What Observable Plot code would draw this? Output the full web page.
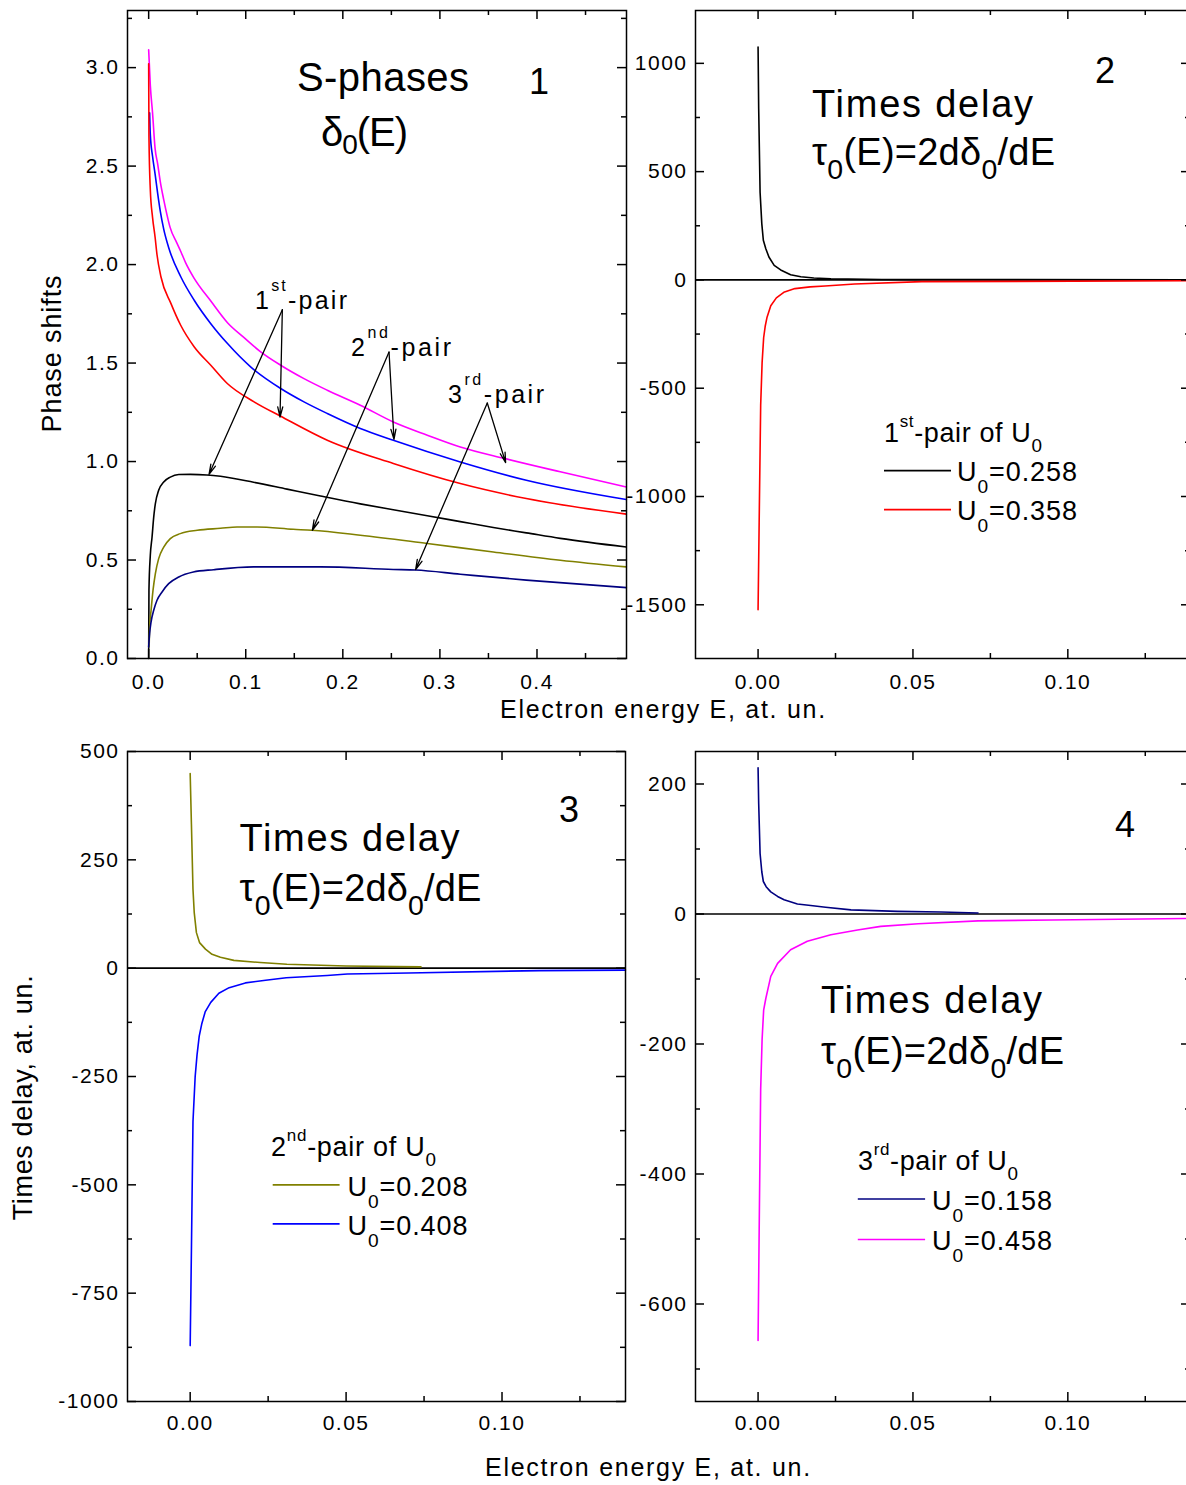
<!DOCTYPE html>
<html><head><meta charset="utf-8">
<script src="https://cdn.jsdelivr.net/npm/d3@7"></script>
<script src="https://cdn.jsdelivr.net/npm/@observablehq/plot@0.6"></script>
<style>
html,body{margin:0;padding:0;background:#fff;overflow:hidden;}
#page{position:relative;width:1186px;height:1485px;overflow:hidden;background:#fff;color:#000;font-family:"Liberation Sans",Arial,sans-serif;}
#page svg{position:absolute;}
</style></head>
<body><div id="page"></div>
<script>
// ---------------- DATA ----------------
// Panel 1: S-phase shifts delta_0(E) for six well depths U0
const E1_u0458 = [0, 0.0017, 0.004, 0.0066, 0.0093, 0.012, 0.0155, 0.019, 0.022, 0.029, 0.0332, 0.038, 0.0469, 0.064, 0.0812, 0.0983, 0.1154, 0.136, 0.16, 0.184, 0.218, 0.252, 0.287, 0.321, 0.367, 0.424, 0.492];
const d_u0458  = [3.09, 2.91, 2.77, 2.59, 2.51, 2.42, 2.33, 2.25, 2.19, 2.11, 2.065, 2.01, 1.93, 1.815, 1.705, 1.629, 1.557, 1.489, 1.421, 1.362, 1.286, 1.201, 1.134, 1.074, 1.015, 0.948, 0.871];
const E1_u0408 = [0.001, 0.0017, 0.004, 0.0066, 0.0093, 0.012, 0.0155, 0.021, 0.0332, 0.0469, 0.064, 0.0812, 0.105, 0.136, 0.16, 0.184, 0.218, 0.252, 0.321, 0.389, 0.492];
const d_u0408  = [2.77, 2.66, 2.55, 2.46, 2.36, 2.27, 2.18, 2.08, 1.937, 1.819, 1.70, 1.599, 1.481, 1.371, 1.303, 1.244, 1.168, 1.108, 0.998, 0.905, 0.807];
const E1_u0358 = [0, 0.0003, 0.0017, 0.004, 0.0066, 0.0086, 0.0127, 0.023, 0.033, 0.047, 0.064, 0.081, 0.1086, 0.136, 0.184, 0.252, 0.321, 0.389, 0.492];
const d_u0358  = [3.02, 2.65, 2.38, 2.24, 2.14, 2.05, 1.937, 1.802, 1.692, 1.582, 1.489, 1.396, 1.303, 1.230, 1.108, 0.990, 0.888, 0.812, 0.733];
const E1_u0258 = [0, 0.0003, 0.0017, 0.0035, 0.0052, 0.0069, 0.0103, 0.0155, 0.0223, 0.031, 0.043, 0.06, 0.074, 0.108, 0.1425, 0.177, 0.218, 0.252, 0.287, 0.321, 0.355, 0.389, 0.424, 0.492];
const d_u0258  = [0, 0.347, 0.524, 0.617, 0.718, 0.786, 0.854, 0.896, 0.921, 0.934, 0.935, 0.932, 0.925, 0.895, 0.86, 0.825, 0.785, 0.755, 0.725, 0.695, 0.665, 0.638, 0.61, 0.566];
const E1_u0208 = [0.0005, 0.001, 0.0025, 0.0045, 0.0069, 0.0103, 0.0155, 0.0223, 0.0326, 0.05, 0.074, 0.091, 0.1116, 0.149, 0.168, 0.218, 0.287, 0.355, 0.424, 0.492];
const d_u0208  = [0.06, 0.16, 0.245, 0.347, 0.431, 0.507, 0.566, 0.609, 0.634, 0.651, 0.661, 0.668, 0.668, 0.656, 0.651, 0.626, 0.584, 0.541, 0.499, 0.465];
const E1_u0158 = [0, 0.001, 0.0025, 0.0052, 0.0086, 0.0138, 0.0206, 0.031, 0.046, 0.067, 0.108, 0.177, 0.252, 0.275, 0.321, 0.389, 0.492];
const d_u0158  = [0.059, 0.127, 0.186, 0.245, 0.296, 0.338, 0.38, 0.414, 0.439, 0.451, 0.465, 0.465, 0.452, 0.449, 0.428, 0.398, 0.360];

// Panel 2: time delay, 1st pair
const E2_u0258 = [0, 0.0002, 0.00065, 0.0012, 0.0017, 0.0025, 0.0035, 0.0052, 0.0073, 0.0105, 0.0138, 0.018, 0.0235, 0.04, 0.138];
const t_u0258  = [1075, 790, 405, 260, 183, 144, 106, 67, 46, 24, 15, 9, 5, 2, 1];
const E2_u0358 = [0, 0.00035, 0.00084, 0.0013, 0.0018, 0.0023, 0.0029, 0.0041, 0.0059, 0.0083, 0.0119, 0.0168, 0.0216, 0.0312, 0.0529, 0.138];
const t_u0358  = [-1523, -1121, -579, -383, -267, -214, -172, -119, -83, -57, -40, -32, -28, -19, -8, -4];

// Panel 3: time delay, 2nd pair
const E3_u0208 = [0, 0.0004, 0.0009, 0.0013, 0.002, 0.003, 0.0049, 0.007, 0.0097, 0.014, 0.0225, 0.031, 0.05, 0.074];
const t_u0208  = [449, 332, 182, 128, 82, 59, 44, 32, 25, 18, 13, 9, 5, 3];
const E3_u0408 = [0, 0.0004, 0.0009, 0.0016, 0.0022, 0.0029, 0.0037, 0.0048, 0.0066, 0.0092, 0.0125, 0.0177, 0.0242, 0.0308, 0.0439, 0.0504, 0.07, 0.112, 0.1396];
const t_u0408  = [-871, -650, -354, -250, -200, -157, -129, -101, -79, -58, -45, -34, -28, -22, -17, -13.5, -11, -5.6, -4.5];

// Panel 4: time delay, 3rd pair
const E4_u0158 = [0, 0.0002, 0.00065, 0.0012, 0.0017, 0.0026, 0.0041, 0.0063, 0.0084, 0.0127, 0.017, 0.0218, 0.03, 0.045, 0.059, 0.071];
const t_u0158  = [225, 170, 93, 65, 50, 42, 34, 27, 22, 15.5, 13, 10.5, 6.3, 4, 3, 1.5];
const E4_u0458 = [0, 0.00035, 0.00084, 0.0013, 0.0018, 0.0025, 0.0041, 0.0063, 0.0105, 0.0159, 0.0235, 0.0321, 0.0396, 0.0517, 0.071, 0.095, 0.138];
const t_u0458  = [-656, -490, -270, -193, -148, -130, -96, -76, -55, -42, -32, -24.5, -19, -15, -10.6, -9.2, -7];

// Annotation arrows in panel 1 (data coordinates: from label to curve)
const arrowFrom = [[0.1377, 1.771], [0.1377, 1.771], [0.2476, 1.556], [0.2476, 1.556], [0.3488, 1.297], [0.3488, 1.297]];
const arrowTo   = [[0.0622, 0.935], [0.1353, 1.226], [0.1686, 0.651], [0.2527, 1.113], [0.275, 0.4515], [0.3677, 0.9944]];

// Ticks
const p1xMajor = [0, 0.1, 0.2, 0.3, 0.4], p1xMinor = [0.05, 0.15, 0.25, 0.35, 0.45];
const p1yMajor = [0, 0.5, 1, 1.5, 2, 2.5, 3], p1yMinor = [0.25, 0.75, 1.25, 1.75, 2.25, 2.75, 3.25];
const tdxMajor = [0, 0.05, 0.1], tdxMinor = [0.025, 0.075, 0.125];
const p2yMajor = [-1500, -1000, -500, 0, 500, 1000], p2yMinor = [-1250, -750, -250, 250, 750];
const p3yMajor = [-1000, -750, -500, -250, 0, 250, 500], p3yMinor = [-875, -625, -375, -125, 125, 375];
const p4yMajor = [-600, -400, -200, 0, 200], p4yMinor = [-700, -500, -300, -100, 100];

const C = {black: "#000000", red: "#ff0000", olive: "#808000", blue: "#0000ff", navy: "#000080", magenta: "#ff00ff"};

// ---------------- HELPERS ----------------
const page = document.getElementById("page");
const FONT = "'Liberation Sans', Arial, sans-serif";
const rows = (E, V) => E.map((e, i) => ({E: e, v: V[i]}));
const line = (E, V, color, curve) => Plot.line(rows(E, V), {x: "E", y: "v", stroke: color, strokeWidth: 1.6, curve});

function panel(o) {
  const innerW = o.width - o.mL - o.mR, innerH = o.height - o.mT - o.mB;
  const T = 9, t = 5, sw = 1.5;
  const tk = {stroke: "black", strokeWidth: sw};
  const svg = Plot.plot({
    width: o.width, height: o.height,
    marginLeft: o.mL, marginRight: o.mR, marginTop: o.mT, marginBottom: o.mB,
    x: {domain: o.xDomain, label: null}, y: {domain: o.yDomain, label: null},
    style: {background: "transparent", fontFamily: FONT, fontSize: "21px", color: "black", overflow: "visible"},
    marks: [
      ...o.marks,
      Plot.tickX(o.xMajor, {x: d => d, insetTop: innerH - T, ...tk}),
      Plot.tickX(o.xMajor, {x: d => d, insetBottom: innerH - T, ...tk}),
      Plot.tickX(o.xMinor, {x: d => d, insetTop: innerH - t, ...tk}),
      Plot.tickX(o.xMinor, {x: d => d, insetBottom: innerH - t, ...tk}),
      Plot.tickY(o.yMajor, {y: d => d, insetRight: innerW - T, ...tk}),
      Plot.tickY(o.yMajor, {y: d => d, insetLeft: innerW - T, ...tk}),
      Plot.tickY(o.yMinor, {y: d => d, insetRight: innerW - t, ...tk}),
      Plot.tickY(o.yMinor, {y: d => d, insetLeft: innerW - t, ...tk}),
      Plot.frame({stroke: "black", strokeWidth: sw}),
      Plot.axisX(o.xMajor, {tickSize: 0, tickPadding: o.xPad, tickFormat: o.xFmt, fontSize: 21, fill: "black", label: null}),
      Plot.axisY(o.yMajor, {tickSize: 0, tickPadding: 8, tickFormat: o.yFmt, fontSize: 21, fill: "black", label: null})
    ]
  });
  svg.style.left = o.left + "px";
  svg.style.top = o.top + "px";
  svg.style.position = "absolute";
  d3.select(svg).selectAll("text").attr("letter-spacing", "1.5px");
  page.appendChild(svg);
  return svg;
}

const fmt1 = d => d.toFixed(1), fmt2 = d => d.toFixed(2), fmtI = d => String(d);

// Panel 1
panel({
  left: 0, top: 0, width: 640, height: 700, mL: 127, mR: 14, mT: 10, mB: 42,
  xDomain: [-0.0218, 0.4922], yDomain: [0, 3.29],
  xMajor: p1xMajor, xMinor: p1xMinor, yMajor: p1yMajor, yMinor: p1yMinor,
  xFmt: fmt1, yFmt: fmt1, xPad: 16,
  marks: [
    line(E1_u0458, d_u0458, C.magenta, "monotone-x"),
    line(E1_u0408, d_u0408, C.blue, "monotone-x"),
    line(E1_u0358, d_u0358, C.red, "monotone-x"),
    line(E1_u0258, d_u0258, C.black, "monotone-x"),
    line(E1_u0208, d_u0208, C.olive, "monotone-x"),
    line(E1_u0158, d_u0158, C.navy, "monotone-x"),
    Plot.arrow(arrowFrom.map((f, i) => ({x1: f[0], y1: f[1], x2: arrowTo[i][0], y2: arrowTo[i][1]})),
      {x1: "x1", y1: "y1", x2: "x2", y2: "y2", stroke: "black", strokeWidth: 1.3, headLength: 12, headAngle: 28})
  ]
});

// Panel 2
panel({
  left: 600, top: 0, width: 600, height: 700, mL: 95, mR: 10, mT: 10, mB: 42,
  xDomain: [-0.0202, 0.1396], yDomain: [-1748, 1244],
  xMajor: tdxMajor, xMinor: tdxMinor, yMajor: p2yMajor, yMinor: p2yMinor,
  xFmt: fmt2, yFmt: fmtI, xPad: 16,
  marks: [
    Plot.ruleY([0], {stroke: "black", strokeWidth: 1.6}),
    line(E2_u0258, t_u0258, C.black, "linear"),
    line(E2_u0358, t_u0358, C.red, "linear")
  ]
});

// Panel 3
panel({
  left: 0, top: 740, width: 640, height: 700, mL: 127, mR: 15, mT: 11, mB: 39,
  xDomain: [-0.0201, 0.1396], yDomain: [-1000, 500],
  xMajor: tdxMajor, xMinor: tdxMinor, yMajor: p3yMajor, yMinor: p3yMinor,
  xFmt: fmt2, yFmt: fmtI, xPad: 14,
  marks: [
    Plot.ruleY([0], {stroke: "black", strokeWidth: 1.6}),
    line(E3_u0208, t_u0208, C.olive, "linear"),
    line(E3_u0408, t_u0408, C.blue, "linear")
  ]
});

// Panel 4
panel({
  left: 600, top: 740, width: 600, height: 700, mL: 95, mR: 10, mT: 11, mB: 39,
  xDomain: [-0.0202, 0.1396], yDomain: [-750, 250],
  xMajor: tdxMajor, xMinor: tdxMinor, yMajor: p4yMajor, yMinor: p4yMinor,
  xFmt: fmt2, yFmt: fmtI, xPad: 14,
  marks: [
    Plot.ruleY([0], {stroke: "black", strokeWidth: 1.6}),
    line(E4_u0158, t_u0158, C.navy, "linear"),
    line(E4_u0458, t_u0458, C.magenta, "linear")
  ]
});

// ---------------- OVERLAY TEXT / LEGENDS ----------------
const ov = d3.create("svg").attr("width", 1186).attr("height", 1485)
  .style("position", "absolute").style("left", "0px").style("top", "0px")
  .style("pointer-events", "none").attr("font-family", FONT);
page.appendChild(ov.node());

function rich(parts, x, y, size, opt = {}) {
  const {anchor = "start", target = null, subSize = 0.7, subShift = 0.4, supSize = 0.62, supShift = 0.6, rotate = 0} = opt;
  const t = ov.append("text").attr("x", x).attr("y", y).attr("font-size", size)
    .attr("text-anchor", anchor).attr("fill", "black");
  if (rotate) t.attr("transform", `rotate(${rotate},${x},${y})`);
  let shift = 0;
  for (const p of parts) {
    let want = 0, fs = size;
    if (p.sub) { want = subShift * size; fs = subSize * size; }
    else if (p.sup) { want = -supShift * size; fs = supSize * size; }
    t.append("tspan").attr("dy", want - shift).attr("font-size", fs).text(p.t);
    shift = want;
  }
  if (target) {
    const w = t.node().getComputedTextLength();
    const n = parts.reduce((s, p) => s + p.t.length, 0);
    t.attr("letter-spacing", ((target - w) / Math.max(1, n - 1)).toFixed(2));
  }
}
const S = s => ({t: s});
const sub = s => ({t: s, sub: true});
const sup = s => ({t: s, sup: true});
const tauParts = [S("τ"), sub("0"), S("(E)=2dδ"), sub("0"), S("/dE")];
const tauOpt = {subSize: 0.75, subShift: 0.38};
const uOpt = {subSize: 0.71, subShift: 0.46};
const hdrOpt = {supSize: 0.63, supShift: 0.54, subSize: 0.7, subShift: 0.38};
const pairOpt = {supSize: 0.64, supShift: 0.74};

// Panel 1
rich([S("S-phases")], 297, 90.5, 40, {target: 172});
rich([S("1")], 539, 94, 36, {anchor: "middle"});
rich([S("δ"), sub("0"), S("(E)")], 321, 146, 40, {subSize: 0.7, subShift: 0.2, target: 87});
rich([S("1"), sup("st"), S("-pair")], 255, 309, 25, {...pairOpt, target: 92});
rich([S("2"), sup("nd"), S("-pair")], 351, 356, 25, {...pairOpt, target: 100});
rich([S("3"), sup("rd"), S("-pair")], 448, 403, 25, {...pairOpt, target: 96});

// Panel 2
rich([S("2")], 1105, 83, 36, {anchor: "middle"});
rich([S("Times delay")], 812, 117, 38, {target: 221});
rich(tauParts, 812, 165, 38, {...tauOpt, target: 243});
rich([S("1"), sup("st"), S("-pair of U"), sub("0")], 884, 442, 27, {...hdrOpt, target: 158});
rich([S("U"), sub("0"), S("=0.258")], 957, 481, 27, {...uOpt, target: 120});
rich([S("U"), sub("0"), S("=0.358")], 957, 520, 27, {...uOpt, target: 120});

// Panel 3
rich([S("3")], 569, 822, 36, {anchor: "middle"});
rich([S("Times delay")], 239.5, 851, 38, {target: 220});
rich(tauParts, 239.5, 900.5, 38, {...tauOpt, target: 242});
rich([S("2"), sup("nd"), S("-pair of U"), sub("0")], 271, 1155.6, 27, {...hdrOpt, target: 165});
rich([S("U"), sub("0"), S("=0.208")], 347.5, 1195.6, 27, {...uOpt, target: 120});
rich([S("U"), sub("0"), S("=0.408")], 347.5, 1234.6, 27, {...uOpt, target: 120});

// Panel 4
rich([S("4")], 1125, 837, 36, {anchor: "middle"});
rich([S("Times delay")], 821, 1012.7, 38, {target: 221});
rich(tauParts, 821, 1064, 38, {...tauOpt, target: 243});
rich([S("3"), sup("rd"), S("-pair of U"), sub("0")], 858, 1170, 27, {...hdrOpt, target: 160});
rich([S("U"), sub("0"), S("=0.158")], 932, 1210, 27, {...uOpt, target: 120});
rich([S("U"), sub("0"), S("=0.458")], 932, 1249.5, 27, {...uOpt, target: 120});

// Legend swatches
const swatches = [
  [884, 951, 470.6, C.black], [884, 951, 509.6, C.red],
  [272.7, 339.6, 1184.9, C.olive], [272.7, 339.6, 1223.9, C.blue],
  [857.8, 925.1, 1199, C.navy], [857.8, 925.1, 1239.5, C.magenta]
];
for (const [x1, x2, y, c] of swatches)
  ov.append("line").attr("x1", x1).attr("x2", x2).attr("y1", y).attr("y2", y).attr("stroke", c).attr("stroke-width", 1.6);

// Axis titles
rich([S("Electron energy E, at. un.")], 500, 718, 25, {target: 325});
rich([S("Electron energy E, at. un.")], 485, 1476, 25, {target: 325});
rich([S("Phase shifts")], 61, 353.5, 27, {anchor: "middle", rotate: -90, target: 157});
rich([S("Times delay, at. un.")], 31.5, 1097.5, 27, {anchor: "middle", rotate: -90, target: 245});
</script>
</body></html>
